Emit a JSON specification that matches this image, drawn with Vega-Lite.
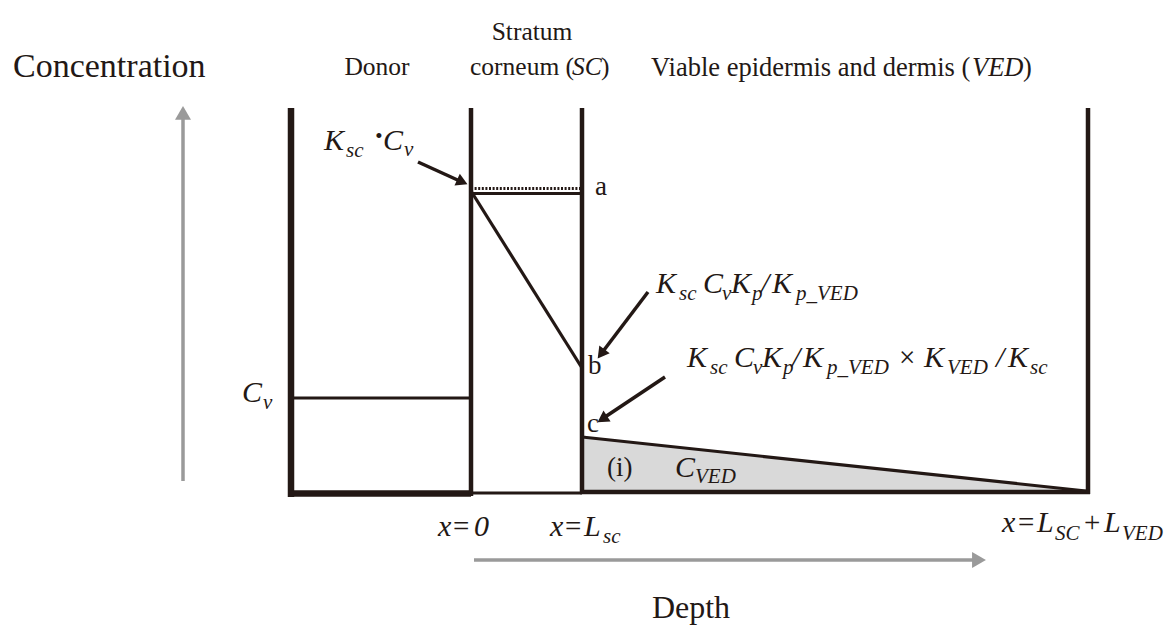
{
  "$schema": "https://vega.github.io/schema/vega-lite/v6.json",
  "width": 1171,
  "height": 627,
  "autosize": {"type": "none"},
  "padding": 0,
  "background": "white",
  "config": {"view": {"stroke": null}, "text": {"font": "'Liberation Serif', 'Times New Roman', 'DejaVu Serif', serif"}},
  "datasets": {
    "fill": [
      {"x": 582, "top": 437, "base": 492},
      {"x": 1086, "top": 491, "base": 492}
    ],
    "segs": [
      {"x": 291, "y": 108, "x2": 291, "y2": 497, "k": "thick"},
      {"x": 288, "y": 493.5, "x2": 471, "y2": 493.5, "k": "thick"},
      {"x": 471, "y": 108, "x2": 471, "y2": 496, "k": "mid"},
      {"x": 582, "y": 108, "x2": 582, "y2": 494, "k": "mid"},
      {"x": 1088, "y": 108, "x2": 1088, "y2": 494, "k": "mid"},
      {"x": 580, "y": 492, "x2": 1090, "y2": 492, "k": "mid"},
      {"x": 471, "y": 493, "x2": 582, "y2": 493, "k": "thin"},
      {"x": 291, "y": 398, "x2": 471, "y2": 398, "k": "thin"},
      {"x": 471, "y": 193.5, "x2": 582, "y2": 193.5, "k": "thin"},
      {"x": 471, "y": 191, "x2": 582, "y2": 368, "k": "thin"},
      {"x": 582, "y": 437, "x2": 1086, "y2": 491, "k": "thin"},
      {"x": 471, "y": 188.5, "x2": 582, "y2": 188.5, "k": "dot"},
      {"x": 418, "y": 162, "x2": 462, "y2": 182, "k": "arrow"},
      {"x": 648, "y": 292, "x2": 601, "y2": 354, "k": "arrow"},
      {"x": 665, "y": 377, "x2": 602, "y2": 419, "k": "arrow"},
      {"x": 183, "y": 481, "x2": 183, "y2": 113, "k": "grey"},
      {"x": 474, "y": 560, "x2": 979, "y2": 560, "k": "grey"}
    ],
    "heads": [
      {"x": 462.3, "y": 181.9, "heading": 114, "k": "black"},
      {"x": 601.1, "y": 353.9, "heading": 217, "k": "black"},
      {"x": 602.3, "y": 419.1, "heading": 237, "k": "black"},
      {"x": 183, "y": 112.9, "heading": 0, "k": "grey"},
      {"x": 979, "y": 560, "heading": 90, "k": "grey"}
    ],
    "labels": [
      {"x": 13, "y": 77, "t": "Concentration", "k": "title"},
      {"x": 691, "y": 618, "t": "Depth", "k": "titlec"},
      {"x": 377, "y": 75, "t": "Donor", "k": "headc"},
      {"x": 532, "y": 40, "t": "Stratum", "k": "headc"},
      {"x": 470, "y": 75, "t": "corneum (", "k": "head"},
      {"x": 572, "y": 75, "t": "SC", "k": "headi"},
      {"x": 601, "y": 75, "t": ")", "k": "head"},
      {"x": 651, "y": 76, "t": "Viable epidermis and dermis (", "k": "headv"},
      {"x": 972, "y": 76, "t": "VED", "k": "headvi"},
      {"x": 1023, "y": 76, "t": ")", "k": "headv"},
      {"x": 595, "y": 195, "t": "a", "k": "lt"},
      {"x": 588, "y": 374, "t": "b", "k": "lt"},
      {"x": 587, "y": 432, "t": "c", "k": "lt"},
      {"x": 607, "y": 476, "t": "(i)", "k": "lt"},
      {"x": 324, "y": 150, "t": "K", "k": "m"},
      {"x": 346, "y": 157, "t": "sc", "k": "ms"},
      {"x": 375, "y": 143, "t": "•", "k": "ms"},
      {"x": 383, "y": 150, "t": "C", "k": "m"},
      {"x": 404, "y": 156, "t": "v", "k": "ms"},
      {"x": 656, "y": 293, "t": "K", "k": "m"},
      {"x": 679, "y": 300, "t": "sc", "k": "ms"},
      {"x": 703, "y": 293, "t": "C", "k": "m"},
      {"x": 722, "y": 300, "t": "v", "k": "ms"},
      {"x": 731, "y": 293, "t": "K", "k": "m"},
      {"x": 752, "y": 300, "t": "p", "k": "ms"},
      {"x": 761, "y": 293, "t": "/", "k": "m"},
      {"x": 772, "y": 293, "t": "K", "k": "m"},
      {"x": 796, "y": 300, "t": "p_VED", "k": "ms"},
      {"x": 687, "y": 367, "t": "K", "k": "m"},
      {"x": 710, "y": 374, "t": "sc", "k": "ms"},
      {"x": 734, "y": 367, "t": "C", "k": "m"},
      {"x": 753, "y": 374, "t": "v", "k": "ms"},
      {"x": 762, "y": 367, "t": "K", "k": "m"},
      {"x": 783, "y": 374, "t": "p", "k": "ms"},
      {"x": 792, "y": 367, "t": "/", "k": "m"},
      {"x": 803, "y": 367, "t": "K", "k": "m"},
      {"x": 827, "y": 374, "t": "p_VED", "k": "ms"},
      {"x": 899, "y": 367, "t": "×", "k": "mu"},
      {"x": 924, "y": 367, "t": "K", "k": "m"},
      {"x": 947, "y": 374, "t": "VED", "k": "ms"},
      {"x": 996, "y": 367, "t": "/", "k": "m"},
      {"x": 1008, "y": 367, "t": "K", "k": "m"},
      {"x": 1030, "y": 374, "t": "sc", "k": "ms"},
      {"x": 242, "y": 402, "t": "C", "k": "m"},
      {"x": 263, "y": 409, "t": "v", "k": "ms"},
      {"x": 675, "y": 477, "t": "C", "k": "m"},
      {"x": 695, "y": 483, "t": "VED", "k": "ms"},
      {"x": 438, "y": 536, "t": "x", "k": "m"},
      {"x": 453, "y": 536, "t": "=", "k": "mu"},
      {"x": 474, "y": 536, "t": "0", "k": "m"},
      {"x": 550, "y": 536, "t": "x", "k": "m"},
      {"x": 565, "y": 536, "t": "=", "k": "mu"},
      {"x": 584, "y": 536, "t": "L", "k": "m"},
      {"x": 603, "y": 543, "t": "sc", "k": "ms"},
      {"x": 1002, "y": 532, "t": "x", "k": "m"},
      {"x": 1018, "y": 532, "t": "=", "k": "mu"},
      {"x": 1037, "y": 532, "t": "L", "k": "m"},
      {"x": 1055, "y": 540, "t": "SC", "k": "ms"},
      {"x": 1084, "y": 532, "t": "+", "k": "mu"},
      {"x": 1104, "y": 532, "t": "L", "k": "m"},
      {"x": 1122, "y": 540, "t": "VED", "k": "ms"}
    ]
  },
  "encoding": {
    "x": {"field": "x", "type": "quantitative", "scale": {"domain": [0, 1171], "nice": false, "zero": false}, "axis": null},
    "y": {"field": "y", "type": "quantitative", "scale": {"domain": [0, 627], "nice": false, "zero": false, "reverse": true}, "axis": null}
  },
  "layer": [
    {
      "data": {"name": "fill"},
      "mark": {"type": "area", "color": "#d9d9d9", "opacity": 1},
      "encoding": {
        "y": {"field": "top", "type": "quantitative"},
        "y2": {"field": "base"}
      }
    },
    {
      "data": {"name": "segs"},
      "transform": [{"filter": "datum.k === 'thick'"}],
      "mark": {"type": "rule", "color": "#231815", "strokeWidth": 6.5},
      "encoding": {"x2": {"field": "x2"}, "y2": {"field": "y2"}}
    },
    {
      "data": {"name": "segs"},
      "transform": [{"filter": "datum.k === 'mid'"}],
      "mark": {"type": "rule", "color": "#231815", "strokeWidth": 4.5},
      "encoding": {"x2": {"field": "x2"}, "y2": {"field": "y2"}}
    },
    {
      "data": {"name": "segs"},
      "transform": [{"filter": "datum.k === 'thin'"}],
      "mark": {"type": "rule", "color": "#231815", "strokeWidth": 3.2},
      "encoding": {"x2": {"field": "x2"}, "y2": {"field": "y2"}}
    },
    {
      "data": {"name": "segs"},
      "transform": [{"filter": "datum.k === 'dot'"}],
      "mark": {"type": "rule", "color": "#231815", "strokeWidth": 3, "strokeDash": [2, 1.6]},
      "encoding": {"x2": {"field": "x2"}, "y2": {"field": "y2"}}
    },
    {
      "data": {"name": "segs"},
      "transform": [{"filter": "datum.k === 'arrow'"}],
      "mark": {"type": "rule", "color": "#231815", "strokeWidth": 3.5},
      "encoding": {"x2": {"field": "x2"}, "y2": {"field": "y2"}}
    },
    {
      "data": {"name": "segs"},
      "transform": [{"filter": "datum.k === 'grey'"}],
      "mark": {"type": "rule", "color": "#9a9a9a", "strokeWidth": 3.5},
      "encoding": {"x2": {"field": "x2"}, "y2": {"field": "y2"}}
    },
    {
      "data": {"name": "heads"},
      "transform": [{"filter": "datum.k === 'black'"}],
      "mark": {"type": "point", "shape": "triangle-up", "filled": true, "size": 170, "color": "#231815", "opacity": 1, "strokeWidth": 0},
      "encoding": {"angle": {"field": "heading", "type": "quantitative", "scale": null}}
    },
    {
      "data": {"name": "heads"},
      "transform": [{"filter": "datum.k === 'grey'"}],
      "mark": {"type": "point", "shape": "triangle-up", "filled": true, "size": 256, "color": "#9a9a9a", "opacity": 1, "strokeWidth": 0},
      "encoding": {"angle": {"field": "heading", "type": "quantitative", "scale": null}}
    },
    {
      "data": {"name": "labels"},
      "transform": [{"filter": "datum.k === 'title'"}],
      "mark": {"type": "text", "fontSize": 34, "align": "left", "baseline": "alphabetic", "color": "#231815"},
      "encoding": {"text": {"field": "t"}}
    },
    {
      "data": {"name": "labels"},
      "transform": [{"filter": "datum.k === 'titlec'"}],
      "mark": {"type": "text", "fontSize": 32, "align": "center", "baseline": "alphabetic", "color": "#231815"},
      "encoding": {"text": {"field": "t"}}
    },
    {
      "data": {"name": "labels"},
      "transform": [{"filter": "datum.k === 'headc'"}],
      "mark": {"type": "text", "fontSize": 25.5, "align": "center", "baseline": "alphabetic", "color": "#231815"},
      "encoding": {"text": {"field": "t"}}
    },
    {
      "data": {"name": "labels"},
      "transform": [{"filter": "datum.k === 'head'"}],
      "mark": {"type": "text", "fontSize": 25.5, "align": "left", "baseline": "alphabetic", "color": "#231815"},
      "encoding": {"text": {"field": "t"}}
    },
    {
      "data": {"name": "labels"},
      "transform": [{"filter": "datum.k === 'headi'"}],
      "mark": {"type": "text", "fontSize": 25.5, "fontStyle": "italic", "align": "left", "baseline": "alphabetic", "color": "#231815"},
      "encoding": {"text": {"field": "t"}}
    },
    {
      "data": {"name": "labels"},
      "transform": [{"filter": "datum.k === 'headv'"}],
      "mark": {"type": "text", "fontSize": 26.5, "align": "left", "baseline": "alphabetic", "color": "#231815"},
      "encoding": {"text": {"field": "t"}}
    },
    {
      "data": {"name": "labels"},
      "transform": [{"filter": "datum.k === 'headvi'"}],
      "mark": {"type": "text", "fontSize": 26.5, "fontStyle": "italic", "align": "left", "baseline": "alphabetic", "color": "#231815"},
      "encoding": {"text": {"field": "t"}}
    },
    {
      "data": {"name": "labels"},
      "transform": [{"filter": "datum.k === 'lt'"}],
      "mark": {"type": "text", "fontSize": 27, "align": "left", "baseline": "alphabetic", "color": "#231815"},
      "encoding": {"text": {"field": "t"}}
    },
    {
      "data": {"name": "labels"},
      "transform": [{"filter": "datum.k === 'm'"}],
      "mark": {"type": "text", "fontSize": 30, "fontStyle": "italic", "align": "left", "baseline": "alphabetic", "color": "#231815"},
      "encoding": {"text": {"field": "t"}}
    },
    {
      "data": {"name": "labels"},
      "transform": [{"filter": "datum.k === 'mu'"}],
      "mark": {"type": "text", "fontSize": 29, "align": "left", "baseline": "alphabetic", "color": "#231815"},
      "encoding": {"text": {"field": "t"}}
    },
    {
      "data": {"name": "labels"},
      "transform": [{"filter": "datum.k === 'ms'"}],
      "mark": {"type": "text", "fontSize": 21, "fontStyle": "italic", "align": "left", "baseline": "alphabetic", "color": "#231815"},
      "encoding": {"text": {"field": "t"}}
    }
  ]
}
